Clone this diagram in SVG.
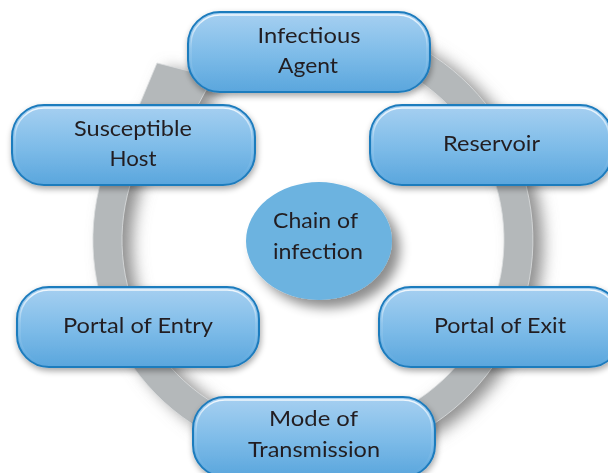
<svg xmlns="http://www.w3.org/2000/svg" width="608" height="473" viewBox="0 0 608 473">
<style>
.lbl{font-family:Lato,"Open Sans","Liberation Sans",sans-serif;font-size:22px;fill:#231f20;text-anchor:middle}
.pill{fill:url(#pillGrad);stroke:#1f7cbd;stroke-width:2}
.gloss{fill:none;stroke:url(#glossGrad);stroke-width:1.5}
</style>
<defs>
<linearGradient id="pillGrad" x1="0" y1="0" x2="0" y2="1">
<stop offset="0" stop-color="#a7d0f1"/>
<stop offset="0.5" stop-color="#80bde9"/>
<stop offset="1" stop-color="#5aa6dd"/>
</linearGradient>
<linearGradient id="glossGrad" x1="0" y1="0" x2="0" y2="1">
<stop offset="0" stop-color="#ffffff" stop-opacity="0.85"/>
<stop offset="0.45" stop-color="#ffffff" stop-opacity="0.15"/>
<stop offset="1" stop-color="#ffffff" stop-opacity="0"/>
</linearGradient>
<filter id="ringShadow" x="-20%" y="-20%" width="140%" height="140%">
<feGaussianBlur stdDeviation="8"/>
</filter>
<filter id="boxShadow" x="-10%" y="-20%" width="120%" height="150%">
<feGaussianBlur in="SourceAlpha" stdDeviation="3"/>
<feOffset dx="1" dy="3" result="b"/>
<feComponentTransfer><feFuncA type="linear" slope="0.35"/></feComponentTransfer>
<feMerge><feMergeNode/><feMergeNode in="SourceGraphic"/></feMerge>
</filter>
<filter id="ellShadow" x="-30%" y="-30%" width="170%" height="170%">
<feGaussianBlur in="SourceAlpha" stdDeviation="6"/>
<feOffset dx="8" dy="8" result="b"/>
<feComponentTransfer><feFuncA type="linear" slope="0.45"/></feComponentTransfer>
<feMerge><feMergeNode/><feMergeNode in="SourceGraphic"/></feMerge>
</filter>
</defs>
<rect width="608" height="473" fill="#ffffff"/>
<g id="connectors">
<path transform="translate(10,5)" filter="url(#ringShadow)" fill="#8e8e8e" d="M369.9,27.5 A220,220 0 1 1 139.6,104.5 L157,63 L213,77 L186.7,126.3 L162.5,122.4 A191,191 0 1 0 362.4,55.5 Z"/>
<path fill="#b4b8ba" stroke="#dcdedf" stroke-width="0.8" d="M369.9,27.5 A220,220 0 1 1 139.6,104.5 L157,63 L213,77 L186.7,126.3 L162.5,122.4 A191,191 0 1 0 362.4,55.5 Z"/>
</g>
<g id="infectious-agent" filter="url(#boxShadow)">
<rect class="pill" x="188" y="12" width="242" height="80" rx="32"/>
<rect class="gloss" x="191" y="15" width="236" height="74" rx="29"/>
<text class="lbl" x="309" y="43" textLength="103" lengthAdjust="spacingAndGlyphs">Infectious</text>
<text class="lbl" x="308" y="73" textLength="60" lengthAdjust="spacingAndGlyphs">Agent</text>
</g>
<g id="reservoir" filter="url(#boxShadow)">
<rect class="pill" x="370" y="105" width="242" height="80" rx="32"/>
<rect class="gloss" x="373" y="108" width="236" height="74" rx="29"/>
<text class="lbl" x="491.5" y="151" textLength="97" lengthAdjust="spacingAndGlyphs">Reservoir</text>
</g>
<g id="portal-of-exit" filter="url(#boxShadow)">
<rect class="pill" x="379" y="287" width="242" height="80" rx="32"/>
<rect class="gloss" x="382" y="290" width="236" height="74" rx="29"/>
<text class="lbl" x="500" y="333" textLength="132" lengthAdjust="spacingAndGlyphs">Portal of Exit</text>
</g>
<g id="mode-of-transmission" filter="url(#boxShadow)">
<rect class="pill" x="193" y="397" width="242" height="80" rx="32"/>
<rect class="gloss" x="196" y="400" width="236" height="74" rx="29"/>
<text class="lbl" x="313.5" y="426" textLength="89" lengthAdjust="spacingAndGlyphs">Mode of</text>
<text class="lbl" x="314" y="457" textLength="132" lengthAdjust="spacingAndGlyphs">Transmission</text>
</g>
<g id="portal-of-entry" filter="url(#boxShadow)">
<rect class="pill" x="17" y="287" width="242" height="80" rx="32"/>
<rect class="gloss" x="20" y="290" width="236" height="74" rx="29"/>
<text class="lbl" x="138" y="333" textLength="150" lengthAdjust="spacingAndGlyphs">Portal of Entry</text>
</g>
<g id="susceptible-host" filter="url(#boxShadow)">
<rect class="pill" x="12" y="105" width="243" height="80" rx="32"/>
<rect class="gloss" x="15" y="108" width="237" height="74" rx="29"/>
<text class="lbl" x="133" y="136" textLength="118" lengthAdjust="spacingAndGlyphs">Susceptible</text>
<text class="lbl" x="133" y="166" textLength="47" lengthAdjust="spacingAndGlyphs">Host</text>
</g>
<g id="chain-of-infection" filter="url(#ellShadow)">
<ellipse cx="319" cy="241" rx="73" ry="59" fill="#6cb3e0"/>
<text class="lbl" x="315.5" y="228" textLength="85" lengthAdjust="spacingAndGlyphs">Chain of</text>
<text class="lbl" x="318" y="259" textLength="90" lengthAdjust="spacingAndGlyphs">infection</text>
</g>
</svg>
